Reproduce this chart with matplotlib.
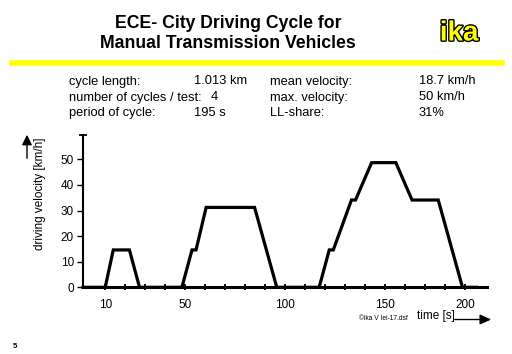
import matplotlib
matplotlib.use("Agg")
import matplotlib.pyplot as plt
import matplotlib.patheffects as pe
import numpy as np

plt.rcParams['font.family'] = ['Liberation Sans', 'DejaVu Sans']

# ---- data ----
time_s = [0, 11, 15, 23, 28, 49, 54, 56, 61, 85, 96, 117, 122, 124, 133, 135,
          143, 155, 163, 176, 188, 195]
velocity = [0, 0, 14.6, 14.6, 0, 0, 14.6, 14.6, 31.2, 31.2, 0, 0, 14.6, 14.6,
            34.1, 34.1, 48.7, 48.7, 34.1, 34.1, 0, 0]
y_ticks = [0, 10, 20, 30, 40, 50]
x_tick_labels = ["10", "50", "100", "150", "200"]
x_label_idx = [0, 4, 9, 14, 18]

info_left = [("cycle length:", "1.013 km"),
             ("number of cycles / test:", "4"),
             ("period of cycle:", "195 s")]
info_right = [("mean velocity:", "18.7 km/h"),
              ("max. velocity:", "50 km/h"),
              ("LL-share:", "31%")]

W, H = 512, 354
fig = plt.figure(figsize=(W / 100, H / 100), dpi=100)
fig.patch.set_facecolor("white")

def fx(px):
    return px / W

def fy(py):
    return 1 - py / H

# axes rect
ax = fig.add_axes([fx(83), fy(287.3), fx(486.7) - fx(83), fy(135) - fy(287.3)])
ax.set_xlim(0, 200)
ax.set_ylim(0, 59.5)
ax.patch.set_alpha(0)
for s in ("top", "right"):
    ax.spines[s].set_visible(False)
ax.spines["left"].set_linewidth(1.5)
ax.spines["bottom"].set_linewidth(2.2)

ax.plot(time_s, velocity, color="black", lw=2.3, clip_on=False,
        solid_joinstyle="miter")

# x ticks
tick_pos = [11 + 9.9 * k for k in range(19)]
ax.set_xticks(tick_pos)
labels = [""] * len(tick_pos)
for i, lab in zip(x_label_idx, x_tick_labels):
    labels[i] = lab
ax.set_xticklabels(labels)
ax.tick_params(axis="x", direction="inout", length=5, width=1.3, pad=6,
               labelsize=8.5)

# y ticks
ax.set_yticks(y_ticks)
ax.set_yticklabels([str(v) for v in y_ticks])
ax.set_yticks([59.5], minor=True)
ax.tick_params(axis="y", which="major", direction="out", length=4, width=1.0,
               pad=2.5, labelsize=8.5)
ax.tick_params(axis="y", which="minor", direction="inout", length=6, width=1.3)

# y label and arrow
fig.text(fx(40), fy(194), "driving velocity [km/h]", rotation=90,
         ha="center", va="center", fontsize=8.5)
fig.add_artist(matplotlib.patches.FancyArrowPatch(
    (fx(27), fy(161)), (fx(27), fy(132)), transform=fig.transFigure,
    arrowstyle="-|>,head_length=4,head_width=2", color="black", lw=1.0,
    mutation_scale=1.5))

# x label and arrow
fig.text(fx(435.5), fy(316.5), "time [s]", ha="center", va="center", fontsize=8.5)
fig.add_artist(matplotlib.patches.FancyArrowPatch(
    (fx(452), fy(319.5)), (fx(494), fy(319.5)), transform=fig.transFigure,
    arrowstyle="-|>,head_length=4.5,head_width=2", color="black", lw=1.0,
    mutation_scale=1.5))
fig.text(fx(383), fy(319), "\u00a9ika V Iei-17.dsf", ha="center", va="center",
         fontsize=4.8)

# title
fig.text(fx(228), fy(24), "ECE- City Driving Cycle for", ha="center",
         va="center", fontsize=12.7, fontweight="bold")
fig.text(fx(228), fy(43), "Manual Transmission Vehicles", ha="center",
         va="center", fontsize=12.7, fontweight="bold")

# logo
fig.text(fx(459), fy(33.5), "ika", ha="center", va="center", fontsize=20,
         fontweight="bold", color="#ffff00",
         path_effects=[pe.withStroke(linewidth=2, foreground="black")])

# yellow rule
fig.add_artist(matplotlib.lines.Line2D([fx(12), fx(502)], [fy(63.3), fy(63.3)],
                                       transform=fig.transFigure,
                                       color="#ffff00", lw=4.0))

# info block
rows_y = [84.5, 100.5, 116.5]
for (lab, val), yy in zip(info_left, rows_y):
    fig.text(fx(69), fy(yy), lab, ha="left", va="baseline", fontsize=9.3)
    xv = 211 if val == "4" else 194
    fig.text(fx(xv), fy(yy), val, ha="left", va="baseline", fontsize=9.3)
for (lab, val), yy in zip(info_right, rows_y):
    fig.text(fx(270), fy(yy), lab, ha="left", va="baseline", fontsize=9.3)
    fig.text(fx(419), fy(yy), val, ha="left", va="baseline", fontsize=9.3)

# page number
fig.text(fx(15), fy(346), "5", ha="center", va="center", fontsize=5.5,
         fontweight="bold")

fig.savefig("out.png", dpi=100, facecolor="white")
